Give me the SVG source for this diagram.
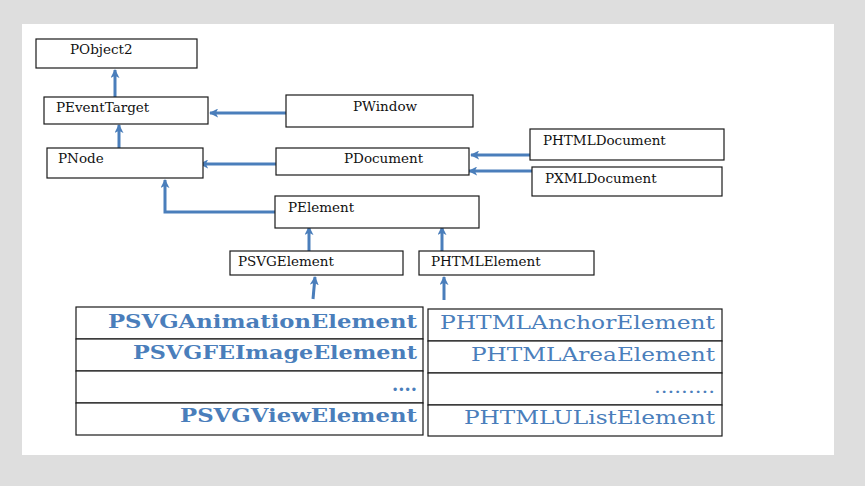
<svg xmlns="http://www.w3.org/2000/svg" width="865" height="486" viewBox="0 0 865 486">
<defs>
<marker id="ah" viewBox="0 0 10 10" refX="9" refY="5" markerWidth="3" markerHeight="3" orient="auto" markerUnits="strokeWidth">
<path d="M0,0 L10,5 L0,10 L2.5,5 Z" fill="#4a7ebb"/>
</marker>
<style>
.box{fill:#fff;stroke:#1a1a1a;stroke-width:1.2}
.lbl{font-family:"DejaVu Serif","Liberation Serif",serif;font-size:13.5px;fill:#111}
.c{fill:none;stroke:#4a7ebb;stroke-width:3;marker-end:url(#ah)}
.cell{fill:#fff;stroke:#1a1a1a;stroke-width:1.2}
.sv{font-family:"DejaVu Serif","Liberation Serif",serif;font-size:19px;font-weight:bold;fill:#4a7ebb;text-anchor:end}
.ht{font-family:"DejaVu Serif","Liberation Serif",serif;font-size:19px;fill:#4a7ebb;text-anchor:end}
</style>
</defs>
<rect x="0" y="0" width="865" height="486" fill="#dedede"/>
<rect x="22" y="24" width="812" height="431" fill="#fff"/>

<g id="connectors">
<path class="c" d="M115,97 V70"/>
<path class="c" d="M119,148 V125"/>
<path class="c" d="M286,113 H210"/>
<path class="c" d="M276,164 H200"/>
<path class="c" d="M530,155 H471"/>
<path class="c" d="M532,171 H469"/>
<path class="c" d="M275,212 H165 V180"/>
<path class="c" d="M309,251 V227"/>
<path class="c" d="M442,251 V227"/>
<path class="c" d="M313,299 L315,277"/>
<path class="c" d="M444,300 V277"/>
</g>

<g id="PObject2"><rect class="box" x="36" y="39" width="161" height="29"/><text class="lbl" x="70" y="54">PObject2</text></g>
<g id="PEventTarget"><rect class="box" x="44" y="97" width="164" height="27"/><text class="lbl" x="56" y="112">PEventTarget</text></g>
<g id="PWindow"><rect class="box" x="286" y="95" width="187" height="32"/><text class="lbl" x="353" y="111">PWindow</text></g>
<g id="PNode"><rect class="box" x="47" y="148" width="156" height="30"/><text class="lbl" x="58" y="163">PNode</text></g>
<g id="PDocument"><rect class="box" x="276" y="148" width="193" height="27"/><text class="lbl" x="344" y="163">PDocument</text></g>
<g id="PHTMLDocument"><rect class="box" x="530" y="129" width="194" height="31"/><text class="lbl" x="543" y="145">PHTMLDocument</text></g>
<g id="PXMLDocument"><rect class="box" x="532" y="167" width="190" height="29"/><text class="lbl" x="545" y="183">PXMLDocument</text></g>
<g id="PElement"><rect class="box" x="275" y="196" width="204" height="32"/><text class="lbl" x="288" y="212">PElement</text></g>
<g id="PSVGElement"><rect class="box" x="230" y="251" width="173" height="24"/><text class="lbl" x="238" y="266">PSVGElement</text></g>
<g id="PHTMLElement"><rect class="box" x="419" y="251" width="175" height="24"/><text class="lbl" x="431" y="266">PHTMLElement</text></g>

<g id="SVGTable">
<rect class="cell" x="76" y="307" width="347" height="32"/>
<rect class="cell" x="76" y="339" width="347" height="32"/>
<rect class="cell" x="76" y="371" width="347" height="32"/>
<rect class="cell" x="76" y="403" width="347" height="32"/>
<text class="sv" x="417" y="328" textLength="309" lengthAdjust="spacingAndGlyphs">PSVGAnimationElement</text>
<text class="sv" x="417" y="359" textLength="284" lengthAdjust="spacingAndGlyphs">PSVGFEImageElement</text>
<text class="sv" x="417" y="391" textLength="25" lengthAdjust="spacingAndGlyphs">....</text>
<text class="sv" x="417" y="422" textLength="237" lengthAdjust="spacingAndGlyphs">PSVGViewElement</text>
</g>

<g id="HTMLTable">
<rect class="cell" x="428" y="309" width="294" height="32"/>
<rect class="cell" x="428" y="341" width="294" height="32"/>
<rect class="cell" x="428" y="373" width="294" height="32"/>
<rect class="cell" x="428" y="405" width="294" height="31"/>
<text class="ht" x="715" y="329" textLength="275" lengthAdjust="spacingAndGlyphs">PHTMLAnchorElement</text>
<text class="ht" x="715" y="361" textLength="244" lengthAdjust="spacingAndGlyphs">PHTMLAreaElement</text>
<text class="ht" x="715" y="393" textLength="61" lengthAdjust="spacingAndGlyphs">.........</text>
<text class="ht" x="715" y="424" textLength="251" lengthAdjust="spacingAndGlyphs">PHTMLUListElement</text>
</g>
</svg>
